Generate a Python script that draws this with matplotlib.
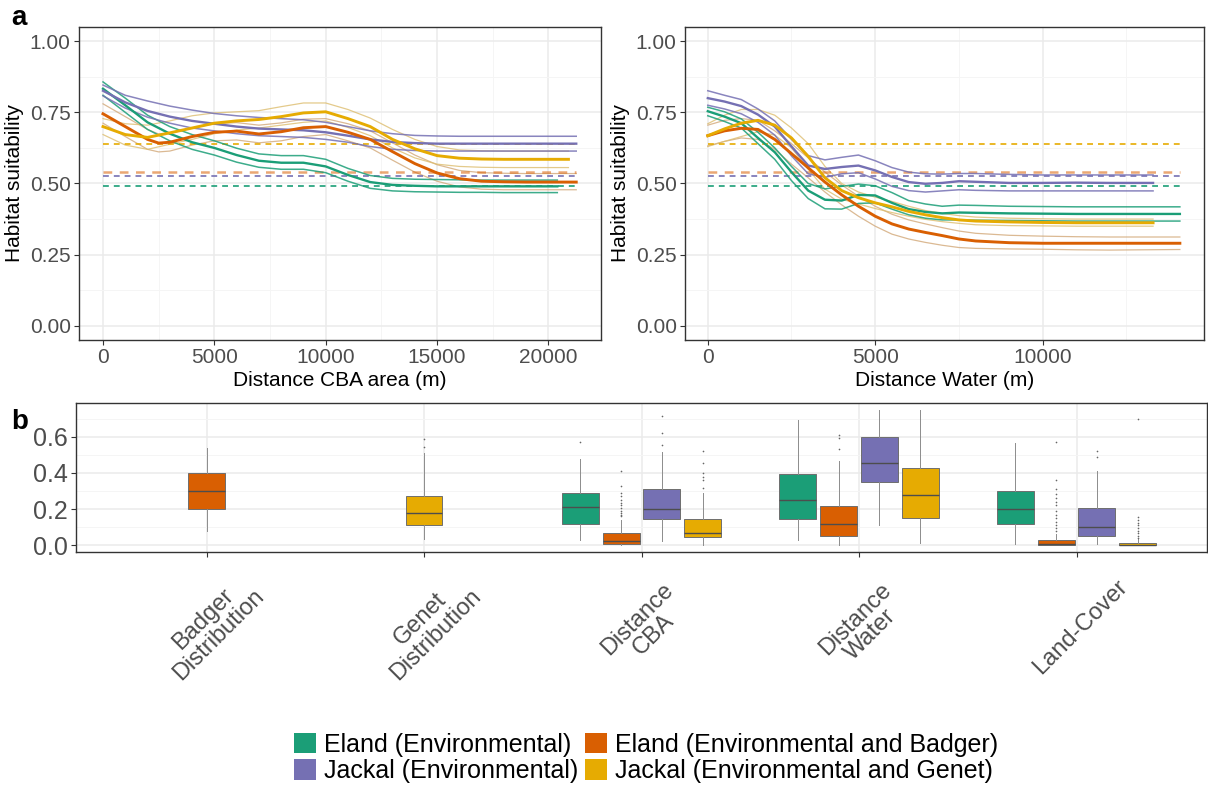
import matplotlib
matplotlib.use("Agg")
import matplotlib.pyplot as plt
from matplotlib.patches import Patch

plt.rcParams['font.family'] = ['Liberation Sans', 'DejaVu Sans']

# ---------------- colours ----------------
GREEN, ORANGE, PURPLE, YELLOW = "#1B9E77", "#D95F02", "#7570B3", "#E6AB02"
ORANGE_CI, YELLOW_CI = "#D2A878", "#DDBD6E"

# ---------------- panel a (left): Distance CBA area ----------------
left_x_green = [0, 1000, 2000, 3000, 4000, 5000, 6000, 7000, 8000, 9000, 10000, 11000,
                12000, 13000, 14000, 15000, 16000, 17000, 18000, 19000, 20000, 20400]
left_green_up = [0.857, 0.80, 0.74, 0.70, 0.672, 0.65, 0.624, 0.604, 0.598, 0.598, 0.585, 0.553,
                 0.528, 0.518, 0.515, 0.514, 0.513, 0.512, 0.512, 0.512, 0.512, 0.512]
left_green_mean = [0.833, 0.775, 0.715, 0.675, 0.645, 0.625, 0.60, 0.58, 0.573, 0.573, 0.56, 0.53,
                   0.505, 0.495, 0.492, 0.49, 0.49, 0.49, 0.49, 0.49, 0.49, 0.49]
left_green_lo = [0.81, 0.75, 0.69, 0.65, 0.62, 0.60, 0.575, 0.557, 0.55, 0.55, 0.538, 0.508,
                 0.483, 0.474, 0.471, 0.47, 0.469, 0.469, 0.468, 0.468, 0.468, 0.468]

left_x_purple = [0, 1000, 2000, 3000, 4000, 5000, 6000, 7000, 8000, 9000, 10000, 11000,
                 12000, 13000, 14000, 15000, 16000, 17000, 18000, 19000, 20000, 21250]
left_purple_up = [0.846, 0.81, 0.79, 0.772, 0.758, 0.746, 0.738, 0.732, 0.728, 0.724, 0.715, 0.70,
                  0.685, 0.675, 0.669, 0.667, 0.666, 0.666, 0.666, 0.666, 0.666, 0.666]
left_purple_mean = [0.826, 0.785, 0.755, 0.735, 0.72, 0.71, 0.70, 0.693, 0.69, 0.687, 0.68, 0.668,
                    0.655, 0.646, 0.642, 0.64, 0.64, 0.64, 0.64, 0.64, 0.64, 0.64]
left_purple_lo = [0.808, 0.765, 0.733, 0.712, 0.695, 0.685, 0.675, 0.668, 0.665, 0.662, 0.655, 0.645,
                  0.63, 0.62, 0.616, 0.614, 0.614, 0.614, 0.614, 0.614, 0.614, 0.614]

left_x_orange = [0, 1000, 2000, 2500, 3000, 4000, 5000, 6000, 7000, 8000, 9000, 10000, 11000,
                 12000, 13000, 14000, 15000, 16000, 17000, 18000, 19000, 20000, 21250]
left_orange_mean = [0.745, 0.70, 0.655, 0.642, 0.645, 0.665, 0.68, 0.684, 0.674, 0.682, 0.696, 0.70, 0.68,
                    0.655, 0.612, 0.57, 0.537, 0.517, 0.508, 0.506, 0.505, 0.505, 0.505]
left_orange_up = [0.78, 0.735, 0.69, 0.674, 0.676, 0.695, 0.71, 0.714, 0.705, 0.713, 0.726, 0.728, 0.71,
                  0.685, 0.643, 0.60, 0.566, 0.546, 0.538, 0.536, 0.535, 0.535, 0.535]
left_orange_lo = [0.712, 0.665, 0.62, 0.611, 0.614, 0.635, 0.65, 0.653, 0.643, 0.65, 0.665, 0.672, 0.65,
                  0.625, 0.582, 0.54, 0.508, 0.488, 0.48, 0.478, 0.478, 0.478, 0.478]

left_x_yellow = [0, 1000, 2000, 3000, 4000, 5000, 6000, 7000, 8000, 9000, 10000, 11000,
                 12000, 13000, 14000, 15000, 16000, 17000, 18000, 19000, 20000, 20900]
left_yellow_mean = [0.70, 0.672, 0.662, 0.678, 0.695, 0.712, 0.72, 0.725, 0.735, 0.748, 0.752, 0.728,
                    0.70, 0.655, 0.622, 0.598, 0.589, 0.586, 0.585, 0.585, 0.585, 0.585]
left_yellow_up = [0.728, 0.71, 0.705, 0.72, 0.738, 0.748, 0.752, 0.756, 0.77, 0.783, 0.783, 0.76,
                  0.73, 0.69, 0.655, 0.63, 0.618, 0.615, 0.614, 0.614, 0.614, 0.614]
left_yellow_lo = [0.672, 0.635, 0.62, 0.638, 0.655, 0.675, 0.688, 0.695, 0.705, 0.715, 0.72, 0.697,
                  0.668, 0.625, 0.59, 0.568, 0.56, 0.557, 0.556, 0.556, 0.556, 0.556]

# ---------------- panel a (right): Distance Water ----------------
right_x_purple = [0, 500, 1000, 1500, 2000, 2500, 3000, 3500, 4000, 4500, 5000, 5500, 6000,
                  6500, 7000, 7500, 8000, 9000, 10000, 11000, 12000, 13300]
right_purple_up = [0.826, 0.81, 0.795, 0.762, 0.72, 0.655, 0.598, 0.583, 0.592, 0.60, 0.58, 0.556, 0.54,
                   0.534, 0.533, 0.535, 0.535, 0.532, 0.53, 0.53, 0.53, 0.53]
right_purple_mean = [0.80, 0.788, 0.772, 0.742, 0.70, 0.63, 0.563, 0.551, 0.558, 0.563, 0.546, 0.523, 0.505,
                     0.499, 0.502, 0.508, 0.506, 0.502, 0.502, 0.503, 0.502, 0.502]
right_purple_lo = [0.775, 0.762, 0.745, 0.715, 0.67, 0.597, 0.534, 0.522, 0.534, 0.538, 0.516, 0.49, 0.475,
                   0.47, 0.474, 0.478, 0.476, 0.474, 0.474, 0.474, 0.474, 0.474]

right_x_green = [0, 500, 1000, 1500, 2000, 2500, 3000, 3500, 4000, 4500, 5000, 5500, 6000,
                 6500, 7000, 7500, 8000, 9000, 10000, 11000, 12000, 13000, 14100]
right_green_up = [0.768, 0.752, 0.727, 0.68, 0.625, 0.56, 0.50, 0.481, 0.49, 0.498, 0.492, 0.468, 0.44,
                  0.428, 0.42, 0.424, 0.423, 0.42, 0.419, 0.418, 0.418, 0.418, 0.418]
right_green_mean = [0.754, 0.735, 0.712, 0.66, 0.61, 0.54, 0.475, 0.443, 0.44, 0.46, 0.458, 0.432, 0.41,
                    0.40, 0.395, 0.398, 0.397, 0.395, 0.394, 0.393, 0.393, 0.393, 0.393]
right_green_lo = [0.738, 0.718, 0.695, 0.64, 0.585, 0.51, 0.447, 0.411, 0.41, 0.43, 0.432, 0.41, 0.39,
                  0.378, 0.372, 0.372, 0.371, 0.37, 0.369, 0.368, 0.368, 0.368, 0.368]

right_x_orange = [0, 500, 1000, 1500, 2000, 2500, 3000, 3500, 4000, 4500, 5000, 5500, 6000,
                  6500, 7000, 7500, 8000, 9000, 10000, 11000, 12000, 13000, 14100]
right_orange_mean = [0.668, 0.685, 0.694, 0.69, 0.655, 0.605, 0.555, 0.505, 0.46, 0.42, 0.385, 0.358, 0.34,
                     0.328, 0.317, 0.305, 0.298, 0.292, 0.29, 0.29, 0.29, 0.29, 0.29]
right_orange_up = [0.705, 0.722, 0.728, 0.722, 0.685, 0.64, 0.59, 0.54, 0.495, 0.455, 0.42, 0.392, 0.372,
                   0.358, 0.345, 0.333, 0.325, 0.318, 0.315, 0.313, 0.312, 0.312, 0.312]
right_orange_lo = [0.632, 0.648, 0.66, 0.655, 0.62, 0.568, 0.52, 0.47, 0.425, 0.385, 0.35, 0.322, 0.305,
                   0.293, 0.283, 0.275, 0.272, 0.27, 0.269, 0.267, 0.266, 0.267, 0.268]

right_x_yellow = [0, 500, 1000, 1500, 2000, 2500, 3000, 3500, 4000, 4500, 5000, 5500, 6000,
                  6500, 7000, 7500, 8000, 9000, 10000, 11000, 12000, 13300]
right_yellow_mean = [0.668, 0.692, 0.712, 0.722, 0.705, 0.66, 0.595, 0.52, 0.475, 0.45, 0.432, 0.418, 0.402,
                     0.39, 0.38, 0.372, 0.368, 0.365, 0.363, 0.362, 0.362, 0.362]
right_yellow_up = [0.71, 0.74, 0.76, 0.76, 0.74, 0.695, 0.64, 0.56, 0.50, 0.47, 0.452, 0.437, 0.42,
                   0.405, 0.395, 0.387, 0.382, 0.378, 0.376, 0.375, 0.375, 0.375]
right_yellow_lo = [0.63, 0.648, 0.665, 0.682, 0.67, 0.625, 0.55, 0.48, 0.445, 0.428, 0.412, 0.398, 0.385,
                   0.374, 0.366, 0.36, 0.355, 0.352, 0.351, 0.35, 0.35, 0.35]

# prevalence (dashed) levels
dash_green, dash_orange, dash_purple, dash_yellow = 0.49, 0.54, 0.525, 0.64

# ---------------- panel b: boxplots ----------------
box_categories = ["Badger\nDistribution", "Genet\nDistribution", "Distance\nCBA",
                  "Distance\nWater", "Land-Cover"]
# [whislo, q1, median, q3, whishi] per category (None = not in model)
box_eland_env = [None, None, [0.031, 0.12, 0.21, 0.291, 0.478],
                 [0.028, 0.143, 0.249, 0.392, 0.691], [0.009, 0.118, 0.198, 0.30, 0.565]]
box_eland_badger = [[0.08, 0.198, 0.298, 0.40, 0.541], None, [0.0, 0.009, 0.026, 0.065, 0.14],
                    [0.0, 0.049, 0.12, 0.217, 0.465], [0.0, 0.0, 0.009, 0.028, 0.06]]
box_jackal_env = [None, None, [0.026, 0.143, 0.198, 0.309, 0.517],
                  [0.113, 0.348, 0.454, 0.598, 0.75], [0.007, 0.049, 0.10, 0.204, 0.411]]
box_jackal_genet = [None, [0.037, 0.111, 0.181, 0.274, 0.513], [0.004, 0.043, 0.070, 0.143, 0.287],
                    [0.013, 0.15, 0.276, 0.426, 0.75], [0.0, 0.0, 0.004, 0.015, 0.035]]
fl_eland_env = [[], [], [0.572], [], []]
fl_eland_badger = [[], [], [0.41, 0.327, 0.29, 0.27, 0.25, 0.235, 0.22, 0.205, 0.19, 0.18, 0.17, 0.16],
                   [0.531, 0.593, 0.611],
                   [0.573, 0.36, 0.31, 0.285, 0.26, 0.24, 0.22, 0.19, 0.17, 0.15, 0.13, 0.11, 0.095, 0.08]]
fl_jackal_env = [[], [], [0.556, 0.624, 0.717], [], [0.491, 0.519]]
fl_jackal_genet = [[], [0.546, 0.587], [0.519, 0.458, 0.402, 0.38, 0.361, 0.315], [],
                   [0.698, 0.155, 0.14, 0.125, 0.11, 0.095, 0.08, 0.065, 0.05, 0.04]]

legend_labels = ["Eland (Environmental)", "Eland (Environmental and Badger)",
                 "Jackal (Environmental)", "Jackal (Environmental and Genet)"]

# ---------------- figure ----------------
W, H = 1208, 791
fig = plt.figure(figsize=(W / 100, H / 100), dpi=100)


def px_axes(l, t, r, b):
    return fig.add_axes([l / W, 1 - b / H, (r - l) / W, (b - t) / H])


TICKC = '#4D4D4D'


def style_common(ax):
    ax.set_axisbelow(True)
    ax.grid(which='major', color='#EBEBEB', lw=1.1)
    ax.grid(which='minor', color='#F5F5F5', lw=0.7)
    for s in ax.spines.values():
        s.set_color('#333333')
        s.set_linewidth(1.0)
    ax.tick_params(which='minor', length=0)


def style_top(ax, xticks, xminor, xlim, xlabel):
    ax.set_xlim(xlim)
    ax.set_ylim(-0.05, 1.05)
    ax.set_xticks(xticks)
    ax.set_xticks(xminor, minor=True)
    ax.set_xticklabels([str(v) for v in xticks])
    ax.set_yticks([0, 0.25, 0.5, 0.75, 1.0])
    ax.set_yticks([0.125, 0.375, 0.625, 0.875], minor=True)
    ax.set_yticklabels(['0.00', '0.25', '0.50', '0.75', '1.00'])
    style_common(ax)
    ax.tick_params(which='major', length=3.5, color='#333333', labelsize=15,
                   labelcolor=TICKC, pad=2.5)
    ax.set_xlabel(xlabel, fontsize=15, color='black', labelpad=3)
    ax.set_ylabel("Habitat suitability", fontsize=15, color='black', labelpad=4)


def draw_panel(ax, series, dashes, xend):
    # series: list of (x, up, mean, lo, colour, ci_colour, kind)
    for x, up, mean, lo, col, cicol, kind in series:
        if kind == 'band':
            ax.plot(x, up, color=cicol, lw=0.9, alpha=0.8, zorder=2)
            ax.plot(x, lo, color=cicol, lw=0.9, alpha=0.8, zorder=2)
    for lvl, col, lw, a in dashes:
        ax.plot([0, xend], [lvl, lvl], color=col, lw=lw, ls=(0, (3.5, 3)), alpha=a, zorder=2.5)
    for x, up, mean, lo, col, cicol, kind in series:
        if kind == 'triple':
            ax.plot(x, up, color=cicol, lw=1.1, alpha=0.85, zorder=3)
            ax.plot(x, lo, color=cicol, lw=1.1, alpha=0.85, zorder=3)
            ax.plot(x, mean, color=col, lw=1.7, zorder=3.2)
    for x, up, mean, lo, col, cicol, kind in series:
        if kind == 'band':
            ax.plot(x, mean, color=col, lw=2.1, zorder=4)


dash_spec = [(dash_yellow, YELLOW, 1.2, 1.0), (dash_orange, ORANGE, 1.8, 0.55),
             (dash_purple, PURPLE, 1.2, 1.0), (dash_green, GREEN, 1.2, 1.0)]

ax1 = px_axes(79, 27, 601, 340)
draw_panel(ax1, [
    (left_x_green, left_green_up, left_green_mean, left_green_lo, GREEN, GREEN, 'triple'),
    (left_x_purple, left_purple_up, left_purple_mean, left_purple_lo, PURPLE, PURPLE, 'triple'),
    (left_x_orange, left_orange_up, left_orange_mean, left_orange_lo, ORANGE, ORANGE_CI, 'band'),
    (left_x_yellow, left_yellow_up, left_yellow_mean, left_yellow_lo, YELLOW, YELLOW_CI, 'band'),
], dash_spec, 21250)
style_top(ax1, [0, 5000, 10000, 15000, 20000], [2500, 7500, 12500, 17500],
          (-1078, 22362), "Distance CBA area (m)")

ax2 = px_axes(685, 27, 1204, 340)
draw_panel(ax2, [
    (right_x_green, right_green_up, right_green_mean, right_green_lo, GREEN, GREEN, 'triple'),
    (right_x_purple, right_purple_up, right_purple_mean, right_purple_lo, PURPLE, PURPLE, 'triple'),
    (right_x_orange, right_orange_up, right_orange_mean, right_orange_lo, ORANGE, ORANGE_CI, 'band'),
    (right_x_yellow, right_yellow_up, right_yellow_mean, right_yellow_lo, YELLOW, YELLOW_CI, 'band'),
], dash_spec, 14100)
style_top(ax2, [0, 5000, 10000], [2500, 7500, 12500], (-681, 14821), "Distance Water (m)")

# ---------------- panel b ----------------
ax3 = px_axes(76, 403, 1207, 552)
ax3.set_xlim(0.4, 5.6)
ax3.set_ylim(-0.0375, 0.7875)
ax3.set_yticks([0, 0.2, 0.4, 0.6])
ax3.set_yticks([0.1, 0.3, 0.5, 0.7], minor=True)
ax3.set_yticklabels(['0.0', '0.2', '0.4', '0.6'])
ax3.set_xticks([1, 2, 3, 4, 5])
ax3.set_xticklabels([])
style_common(ax3)
ax3.tick_params(which='major', length=3.5, color='#333333', labelsize=18,
                labelcolor=TICKC, pad=2.5)

group_boxes = [box_eland_env, box_eland_badger, box_jackal_env, box_jackal_genet]
group_fliers = [fl_eland_env, fl_eland_badger, fl_jackal_env, fl_jackal_genet]
group_cols = [GREEN, ORANGE, PURPLE, YELLOW]
dodge = [-0.28125, -0.09375, 0.09375, 0.28125]
for ci in range(len(box_categories)):
    present = [g for g in range(4) if group_boxes[g][ci] is not None]
    for g in present:
        lo, q1, med, q3, hi = group_boxes[g][ci]
        pos = ci + 1 + (dodge[g] if len(present) > 1 else 0.0)
        st = [dict(whislo=lo, q1=q1, med=med, q3=q3, whishi=hi,
                   fliers=group_fliers[g][ci])]
        ax3.bxp(st, positions=[pos], widths=0.17, patch_artist=True, showcaps=False,
                boxprops=dict(facecolor=group_cols[g], edgecolor='#6E6E6E', lw=0.7),
                medianprops=dict(color='#4D4D4D', lw=1.0),
                whiskerprops=dict(color='#8C8C8C', lw=0.7),
                flierprops=dict(marker='o', markersize=1.2, markerfacecolor='#666666',
                                markeredgecolor='none'),
                manage_ticks=False, zorder=3)

for ci, lab in enumerate(box_categories):
    ax3.annotate(lab, xy=(ci + 1, 0), xycoords=('data', 'axes fraction'),
                 xytext=(3, -54), textcoords='offset points', rotation=45,
                 rotation_mode='anchor', ha='center', va='center',
                 multialignment='center', fontsize=17, color=TICKC, linespacing=1.0)

# panel letters
fig.text(11 / W, 1 - 25 / H, 'a', fontsize=20, fontweight='bold', va='baseline')
fig.text(11 / W, 1 - 429 / H, 'b', fontsize=20, fontweight='bold', va='baseline')

# legend
handles = [Patch(facecolor=GREEN, edgecolor='none'), Patch(facecolor=PURPLE, edgecolor='none'),
           Patch(facecolor=ORANGE, edgecolor='none'), Patch(facecolor=YELLOW, edgecolor='none')]
labels = [legend_labels[0], legend_labels[2], legend_labels[1], legend_labels[3]]
fig.legend(handles, labels, ncol=2, loc='center', bbox_to_anchor=(646 / W, 1 - 758 / H),
           frameon=False, fontsize=18, handlelength=0.88, handleheight=0.88,
           handletextpad=0.3, columnspacing=0.3, labelspacing=0.1, borderpad=0)

fig.savefig("out.png", dpi=100)
